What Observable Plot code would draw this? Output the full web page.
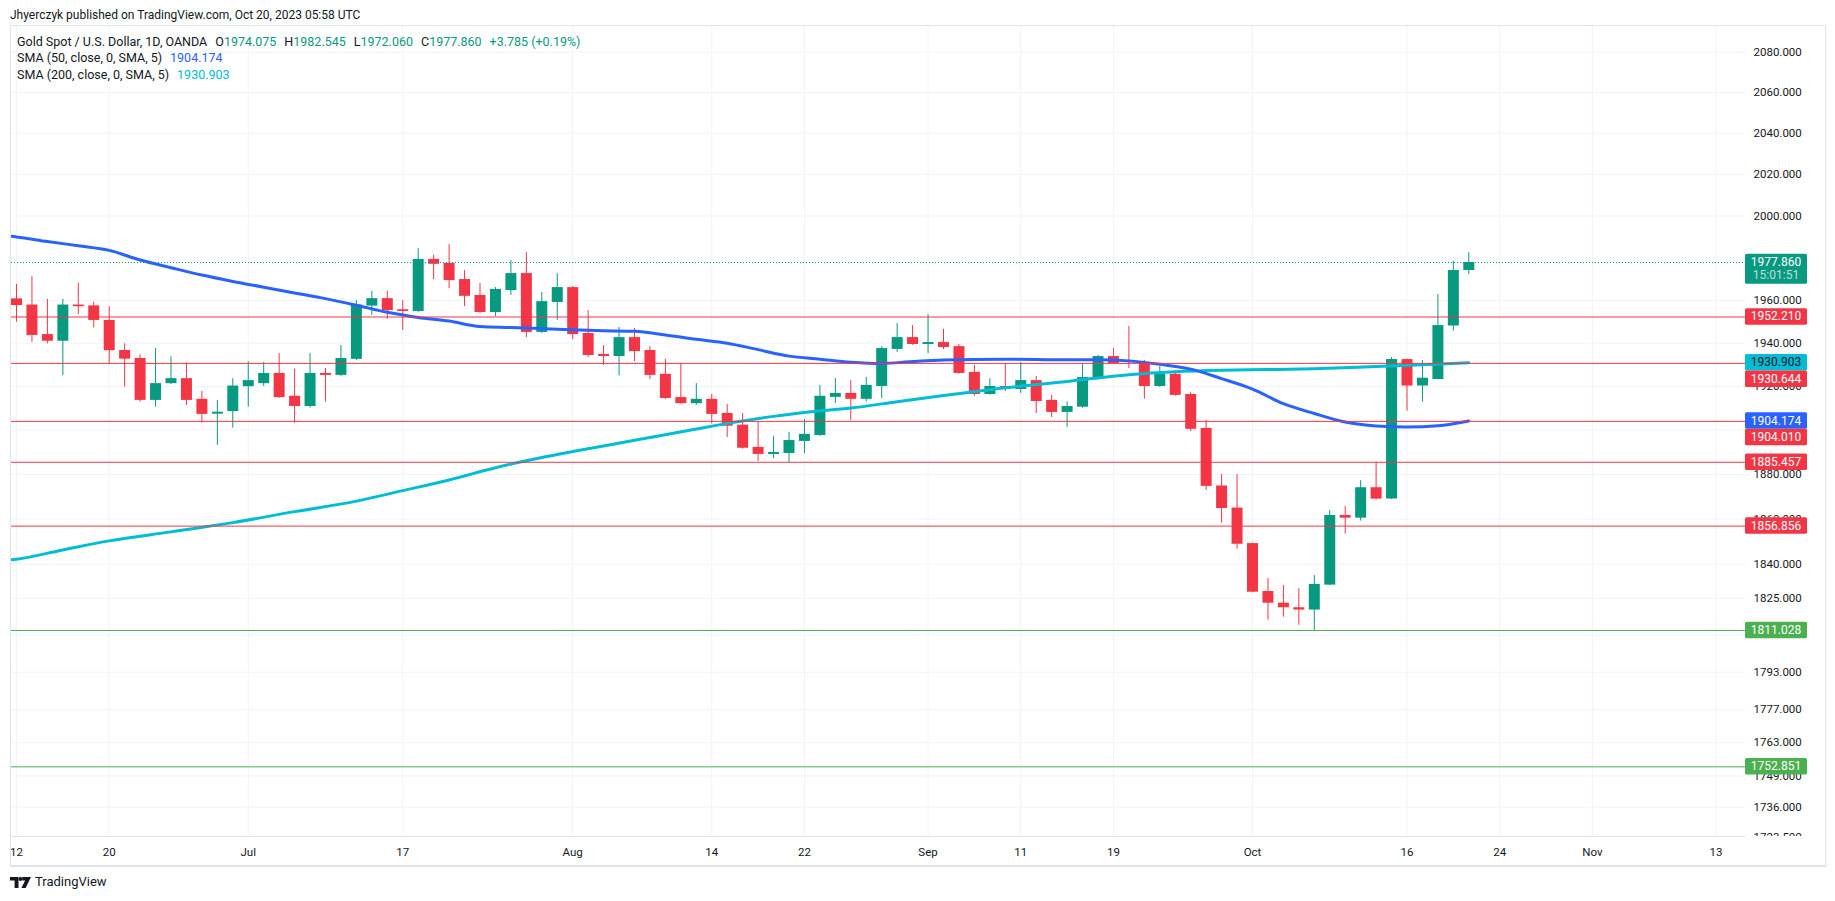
<!DOCTYPE html>
<html>
<head>
<meta charset="utf-8">
<script src="https://cdn.jsdelivr.net/npm/d3@7"></script>
<script src="https://cdn.jsdelivr.net/npm/@observablehq/plot@0.6"></script>
<style>
  html, body { margin: 0; padding: 0; background: #ffffff; }
  body { width: 1835px; height: 901px; position: relative; overflow: hidden;
         font-family: Roboto, "Liberation Sans", sans-serif; color: #131722; }
  #hdr { position: absolute; left: 10px; top: 6px; font-size: 12px; line-height: 18px; color: #131722; white-space: nowrap; }
  #chart { position: absolute; left: 0; top: 26px; }
  #frame { position: absolute; left: 10px; top: 25px; width: 1814px; height: 839px;
           border: 1px solid #e0e3eb; border-bottom-width: 2px; pointer-events: none; }
  #legend { position: absolute; left: 17px; top: 33.75px; font-size: 12.5px; line-height: 16.5px; white-space: nowrap; }
  #legend .gap { margin-left: 8px; }
  #legend .up { color: #089981; }
  #logo { position: absolute; left: 10px; top: 874px; font-size: 13px; line-height: 16px; color: #131722; display: flex; align-items: center; gap: 4px; }
</style>
</head>
<body>
<div id="hdr">Jhyerczyk published on TradingView.com, Oct 20, 2023 05:58 UTC</div>
<div id="chart"></div>
<div id="frame"></div>
<div id="legend">
  <div><span>Gold Spot / U.S. Dollar, 1D, OANDA</span><span class="gap">O</span><span class="up" id="lo"></span><span class="gap">H</span><span class="up" id="lh"></span><span class="gap">L</span><span class="up" id="ll"></span><span class="gap">C</span><span class="up" id="lc"></span><span class="gap up" id="lchg"></span></div>
  <div><span>SMA (50, close, 0, SMA, 5)</span><span class="gap" id="l50" style="color:#2962FF"></span></div>
  <div><span>SMA (200, close, 0, SMA, 5)</span><span class="gap" id="l200" style="color:#00BCD4"></span></div>
</div>
<div id="logo">
  <svg width="21" height="11" viewBox="0 0 21 11"><path d="M0 0H8.5V11H4.6V3.6H0Z M12.2 0H21L15.6 11H11.4L15.1 3.6H12.2Z" fill="#131722"/><circle cx="10.4" cy="2" r="1.9" fill="#131722"/></svg>
  <span>TradingView</span>
</div>
<script>
// ---------- data ----------
const dates = [
  "2023-06-12","2023-06-13","2023-06-14","2023-06-15","2023-06-16","2023-06-19","2023-06-20","2023-06-21","2023-06-22","2023-06-23",
  "2023-06-26","2023-06-27","2023-06-28","2023-06-29","2023-06-30","2023-07-03","2023-07-04","2023-07-05","2023-07-06","2023-07-07",
  "2023-07-10","2023-07-11","2023-07-12","2023-07-13","2023-07-14","2023-07-17","2023-07-18","2023-07-19","2023-07-20","2023-07-21",
  "2023-07-24","2023-07-25","2023-07-26","2023-07-27","2023-07-28","2023-07-31","2023-08-01","2023-08-02","2023-08-03","2023-08-04",
  "2023-08-07","2023-08-08","2023-08-09","2023-08-10","2023-08-11","2023-08-14","2023-08-15","2023-08-16","2023-08-17","2023-08-18",
  "2023-08-21","2023-08-22","2023-08-23","2023-08-24","2023-08-25","2023-08-28","2023-08-29","2023-08-30","2023-08-31","2023-09-01",
  "2023-09-04","2023-09-05","2023-09-06","2023-09-07","2023-09-08","2023-09-11","2023-09-12","2023-09-13","2023-09-14","2023-09-15",
  "2023-09-18","2023-09-19","2023-09-20","2023-09-21","2023-09-22","2023-09-25","2023-09-26","2023-09-27","2023-09-28","2023-09-29",
  "2023-10-02","2023-10-03","2023-10-04","2023-10-05","2023-10-06","2023-10-09","2023-10-10","2023-10-11","2023-10-12","2023-10-13",
  "2023-10-16","2023-10-17","2023-10-18","2023-10-19","2023-10-20"
];
const open = [
  1960.7,1957.8,1944.0,1940.9,1957.8,1957.4,1950.6,1936.6,1932.9,1913.6,
  1921.3,1923.6,1914.1,1907.3,1908.5,1919.9,1921.3,1926.0,1915.5,1910.8,
  1926.0,1925.1,1932.5,1957.3,1960.8,1955.6,1954.8,1979.3,1977.4,1969.8,
  1962.3,1954.3,1964.6,1972.6,1945.0,1959.0,1966.0,1944.5,1934.8,1933.8,
  1942.6,1936.6,1925.6,1914.9,1912.1,1914.1,1907.6,1902.3,1892.2,1889.0,
  1889.4,1894.9,1897.6,1915.0,1916.8,1914.1,1920.0,1937.1,1942.6,1939.4,
  1940.3,1938.4,1926.5,1916.3,1920.0,1918.6,1922.7,1913.6,1908.1,1910.5,
  1923.6,1933.8,1931.8,1931.1,1920.0,1925.6,1916.3,1900.8,1874.8,1864.9,
  1849.1,1828.0,1822.9,1820.9,1819.9,1830.8,1861.6,1860.4,1874.0,1868.9,
  1932.4,1920.2,1923.2,1948.0,1974.075
];
const high = [
  1967.5,1971.2,1960.4,1960.4,1968.1,1959.1,1957.0,1939.7,1934.6,1937.5,
  1933.7,1930.8,1917.7,1913.6,1923.6,1931.4,1931.1,1935.2,1927.9,1935.2,
  1928.3,1938.9,1959.9,1964.2,1964.2,1959.9,1984.4,1981.3,1986.3,1974.0,
  1967.9,1966.0,1978.8,1982.6,1963.7,1972.6,1966.5,1955.2,1938.9,1947.3,
  1946.8,1938.4,1932.5,1930.6,1921.3,1916.3,1911.8,1907.6,1903.5,1897.2,
  1899.0,1904.9,1920.4,1923.6,1922.7,1924.1,1938.4,1949.2,1948.2,1953.3,
  1946.4,1939.4,1929.7,1923.6,1930.2,1931.1,1924.6,1915.9,1912.9,1930.6,
  1934.3,1937.5,1947.8,1932.0,1929.2,1927.4,1917.2,1904.4,1879.9,1879.9,
  1849.3,1833.7,1830.6,1829.3,1835.0,1863.8,1865.6,1877.2,1885.5,1933.3,
  1932.6,1932.0,1962.7,1978.3,1982.545
];
const low = [
  1949.8,1940.4,1939.7,1924.9,1953.3,1947.1,1930.3,1919.7,1912.8,1910.5,
  1920.8,1911.3,1903.2,1893.1,1900.9,1910.5,1920.0,1914.5,1903.2,1910.1,
  1912.9,1924.6,1932.0,1952.9,1951.1,1945.9,1954.3,1969.8,1965.5,1957.1,
  1953.9,1952.4,1962.3,1942.6,1944.5,1950.6,1941.6,1933.3,1929.7,1924.9,
  1931.5,1923.2,1914.0,1911.8,1911.3,1902.9,1896.7,1891.4,1885.8,1887.2,
  1885.4,1889.4,1897.2,1912.2,1904.4,1912.9,1914.5,1935.7,1939.0,1935.2,
  1937.1,1925.6,1915.5,1916.0,1917.7,1916.8,1907.6,1905.8,1901.3,1910.0,
  1923.0,1930.2,1928.3,1914.1,1919.6,1915.5,1899.4,1872.8,1858.2,1846.6,
  1827.5,1815.5,1816.8,1813.3,1811.0,1830.5,1853.3,1859.1,1868.5,1868.7,
  1908.7,1912.8,1923.0,1945.6,1972.060
];
const close = [
  1957.6,1943.6,1940.9,1957.8,1957.0,1950.6,1936.5,1932.6,1913.6,1921.3,
  1923.6,1913.6,1907.2,1908.2,1920.2,1922.7,1926.0,1914.9,1910.8,1926.0,
  1925.1,1932.9,1957.8,1960.8,1955.2,1954.8,1979.3,1977.0,1969.3,1961.9,
  1954.3,1965.1,1972.6,1945.0,1959.4,1966.0,1944.0,1934.3,1933.8,1942.6,
  1936.1,1925.1,1914.5,1912.1,1914.1,1907.2,1901.8,1891.8,1889.0,1889.9,
  1895.3,1898.1,1915.5,1916.8,1914.1,1920.5,1937.5,1942.6,1939.4,1940.3,
  1938.0,1926.0,1916.3,1920.0,1918.6,1922.7,1913.1,1908.1,1910.8,1924.1,
  1933.8,1930.6,1931.0,1920.0,1925.6,1915.9,1900.4,1874.6,1864.7,1848.8,
  1827.7,1822.9,1820.9,1819.9,1831.1,1861.6,1860.4,1874.0,1868.9,1932.4,
  1920.2,1923.8,1948.2,1974.075,1977.860
];
const sma50Dates = [
  "2023-06-09","2023-06-12","2023-06-14","2023-06-16","2023-06-20","2023-06-22","2023-06-26","2023-06-28","2023-06-30","2023-07-04",
  "2023-07-06","2023-07-10","2023-07-12","2023-07-14","2023-07-18","2023-07-20","2023-07-24","2023-07-26","2023-07-31","2023-08-03",
  "2023-08-07","2023-08-09","2023-08-11","2023-08-15","2023-08-17","2023-08-21","2023-08-23","2023-08-25","2023-08-29","2023-08-31",
  "2023-09-04","2023-09-08","2023-09-14","2023-09-18","2023-09-20","2023-09-22","2023-09-26","2023-09-28","2023-10-02","2023-10-04",
  "2023-10-06","2023-10-10","2023-10-12","2023-10-16","2023-10-18","2023-10-20"
];
const sma50Values = [
  1990.8,1990.0,1987.8,1985.8,1983.6,1979.0,1975.4,1971.9,1968.9,1966.2,
  1963.5,1960.8,1957.7,1954.4,1952.0,1950.3,1947.8,1947.3,1946.5,1945.8,
  1945.5,1943.8,1941.8,1940.0,1937.0,1934.0,1932.6,1931.2,1930.6,1931.5,
  1932.2,1932.6,1932.3,1932.3,1931.8,1930.2,1928.0,1923.6,1918.8,1912.1,
  1907.6,1903.7,1901.9,1901.4,1902.0,1904.174
];
const sma200Dates = [
  "2023-06-09","2023-06-12","2023-06-15","2023-06-20","2023-06-26","2023-06-30","2023-07-06","2023-07-12","2023-07-17","2023-07-20",
  "2023-07-25","2023-07-28","2023-08-01","2023-08-07","2023-08-11","2023-08-15","2023-08-18","2023-08-22","2023-08-25","2023-08-30",
  "2023-09-04","2023-09-08","2023-09-14","2023-09-20","2023-09-25","2023-09-28","2023-10-03","2023-10-06","2023-10-12","2023-10-17",
  "2023-10-20"
];
const sma200Values = [
  1841.5,1842.2,1846.3,1850.3,1854.3,1858.4,1863.3,1868.0,1872.7,1877.5,
  1883.0,1887.6,1890.3,1895.4,1900.5,1903.1,1906.3,1908.1,1910.1,1913.0,
  1915.8,1919.4,1922.3,1925.4,1926.8,1927.5,1927.8,1928.2,1929.2,1930.0,
  1930.903
];
const levelValues = [1952.210, 1930.644, 1904.010, 1885.457, 1856.856, 1811.028, 1752.851];
const levelKinds  = ["resistance","resistance","resistance","resistance","resistance","support","support"];
const yTicks = [2080, 2060, 2040, 2020, 2000, 1980, 1960, 1940, 1920, 1900, 1880, 1860, 1840, 1825, 1809, 1793, 1777, 1763, 1749, 1736, 1723.5];
const xTickDates  = ["2023-06-12","2023-06-20","2023-07-03","2023-07-17","2023-08-01","2023-08-14","2023-08-22","2023-09-01","2023-09-11","2023-09-19","2023-10-02","2023-10-16","2023-10-24","2023-11-01","2023-11-13"];
const xTickLabels = ["12","20","Jul","17","Aug","14","22","Sep","11","19","Oct","16","24","Nov","13"];
const countdown = "15:01:51";

// ---------- helpers ----------
const firstDay = new Date(dates[0] + "T00:00:00Z");
function tradingIndex(s) {
  const target = new Date(s + "T00:00:00Z").getTime();
  const cur = new Date(firstDay.getTime());
  const step = target >= cur.getTime() ? 1 : -1;
  let n = 0;
  while (cur.getTime() !== target) {
    cur.setUTCDate(cur.getUTCDate() + step);
    const wd = cur.getUTCDay();
    if (wd !== 0 && wd !== 6) n += step;
  }
  return n;
}
const UP = "#089981", DOWN = "#F23645", GRID = "#f0f3fa";
const kindColor = {resistance: "#F23645", support: "#4CAF50"};

const candles = dates.map((d, k) => ({i: tradingIndex(d), o: open[k], h: high[k], l: low[k], c: close[k]}));
const sma50 = sma50Dates.map((d, k) => ({i: tradingIndex(d), v: sma50Values[k]}));
const sma200 = sma200Dates.map((d, k) => ({i: tradingIndex(d), v: sma200Values[k]}));
const levels = levelValues.map((v, k) => ({v, kind: levelKinds[k]}));
const xTicks = xTickDates.map((d, k) => ({i: tradingIndex(d), label: xTickLabels[k]}));
const lastClose = close[close.length - 1];

const W = 1835, H = 840, ML = 11, MR = 90, MT = 0, MB = 30;
const yDomain = [1723.85, 2092.84];
const yScale = Plot.scale({y: {type: "log", domain: yDomain, range: [H - MB, MT]}});

// ---------- price tags on the right scale (positions from the y scale) ----------
const tags = [
  {v: lastClose, lines: [lastClose.toFixed(3), countdown], fill: UP, color: ["#ffffff", "rgba(255,255,255,0.72)"]},
  ...levels.map(l => ({v: l.v, lines: [l.v.toFixed(3)], fill: kindColor[l.kind], color: ["#ffffff"]})),
  {v: sma50Values[sma50Values.length - 1], lines: [sma50Values[sma50Values.length - 1].toFixed(3)], fill: "#2962FF", color: ["#ffffff"]},
  {v: sma200Values[sma200Values.length - 1], lines: [sma200Values[sma200Values.length - 1].toFixed(3)], fill: "#00BCD4", color: ["#131722"]}
];
const tagW = 62, lineH = 16.5, line2 = 13.5;
tags.forEach(t => { t.y = yScale.apply(t.v); });
tags.sort((a, b) => a.y - b.y);
let prevBottom = -Infinity;
for (const t of tags) {
  t.h = lineH + (t.lines.length - 1) * line2;
  t.top = Math.max(t.y - lineH / 2, prevBottom);
  prevBottom = t.top + t.h;
}
// tick labels that sit (almost) wholly under a tag are not shown, as on the reference
function coveredShare(c) {
  const a = c - 6, b = c + 6;
  let cov = 0;
  for (const t of tags) cov += Math.max(0, Math.min(b, t.top + t.h) - Math.max(a, t.top));
  return cov / 12;
}
const yLabelTicks = yTicks.filter(v => coveredShare(yScale.apply(v)) < 0.75);

const chart = Plot.plot({
  width: W, height: H,
  marginTop: MT, marginBottom: MB, marginLeft: ML, marginRight: MR,
  x: {type: "linear", domain: [-0.3236, 111.909], axis: null},
  y: {type: "log", domain: yDomain, axis: null},
  style: {fontFamily: "Roboto, 'Liberation Sans', sans-serif", fontSize: "11.5px", color: "#131722", background: "transparent"},
  marks: [
    Plot.ruleY(yTicks, {y: d => d, stroke: GRID, strokeWidth: 1, clip: true}),
    Plot.ruleX(xTicks, {x: "i", stroke: GRID, strokeWidth: 1}),
    Plot.ruleX(candles, {x: "i", y1: "l", y2: "h", stroke: d => d.c >= d.o ? UP : DOWN, strokeWidth: 1}),
    Plot.ruleX(candles, {x: "i", y1: "o", y2: "c", stroke: d => d.c >= d.o ? UP : DOWN, strokeWidth: 11, strokeLinecap: "butt"}),
    Plot.line(sma200, {x: "i", y: "v", stroke: "#00BCD4", strokeWidth: 3, curve: "monotone-x", clip: true}),
    Plot.line(sma50, {x: "i", y: "v", stroke: "#2962FF", strokeWidth: 3, curve: "monotone-x", clip: true}),
    Plot.ruleY(levels, {y: "v", stroke: d => kindColor[d.kind], strokeWidth: 1}),
    Plot.ruleY([lastClose], {y: d => d, stroke: UP, strokeWidth: 1, strokeDasharray: "1,2"}),
    Plot.text(yLabelTicks, {y: d => d, text: d => d.toFixed(3), frameAnchor: "right", dx: 8, textAnchor: "start", fill: "#131722"}),
    Plot.text(xTicks, {x: "i", text: "label", frameAnchor: "bottom", dy: 15.7, lineAnchor: "middle", fill: "#131722"})
  ]
});
document.getElementById("chart").appendChild(chart);

// ---------- pane chrome and tags ----------
const svg = d3.select(chart);
const plotRight = W - MR, plotBottom = H - MB;
svg.append("rect").attr("x", plotRight).attr("y", plotBottom).attr("width", MR).attr("height", MB).attr("fill", "#fff");
svg.append("line").attr("x1", ML).attr("x2", plotRight).attr("y1", plotBottom + 0.5).attr("y2", plotBottom + 0.5).attr("stroke", "#e0e3eb");

const tg = svg.append("g").attr("font-family", "Roboto, 'Liberation Sans', sans-serif").attr("font-size", "12px");
for (const t of tags) {
  tg.append("rect").attr("x", plotRight).attr("y", t.top).attr("width", tagW).attr("height", t.h).attr("rx", 1.5).attr("fill", t.fill);
  t.lines.forEach((s, k) => {
    tg.append("text").attr("x", plotRight + tagW / 2).attr("y", t.top + lineH / 2 + k * line2)
      .attr("text-anchor", "middle").attr("dominant-baseline", "central").attr("fill", t.color[k] || t.color[0]).text(s);
  });
}

// ---------- legend values ----------
const n = close.length - 1;
const chg = close[n] - close[n - 1];
document.getElementById("lo").textContent = open[n].toFixed(3);
document.getElementById("lh").textContent = high[n].toFixed(3);
document.getElementById("ll").textContent = low[n].toFixed(3);
document.getElementById("lc").textContent = close[n].toFixed(3);
document.getElementById("lchg").textContent = (chg >= 0 ? "+" : "") + chg.toFixed(3) + " (" + (chg >= 0 ? "+" : "") + (chg / close[n - 1] * 100).toFixed(2) + "%)";
document.getElementById("l50").textContent = sma50Values[sma50Values.length - 1].toFixed(3);
document.getElementById("l200").textContent = sma200Values[sma200Values.length - 1].toFixed(3);
</script>
</body>
</html>
